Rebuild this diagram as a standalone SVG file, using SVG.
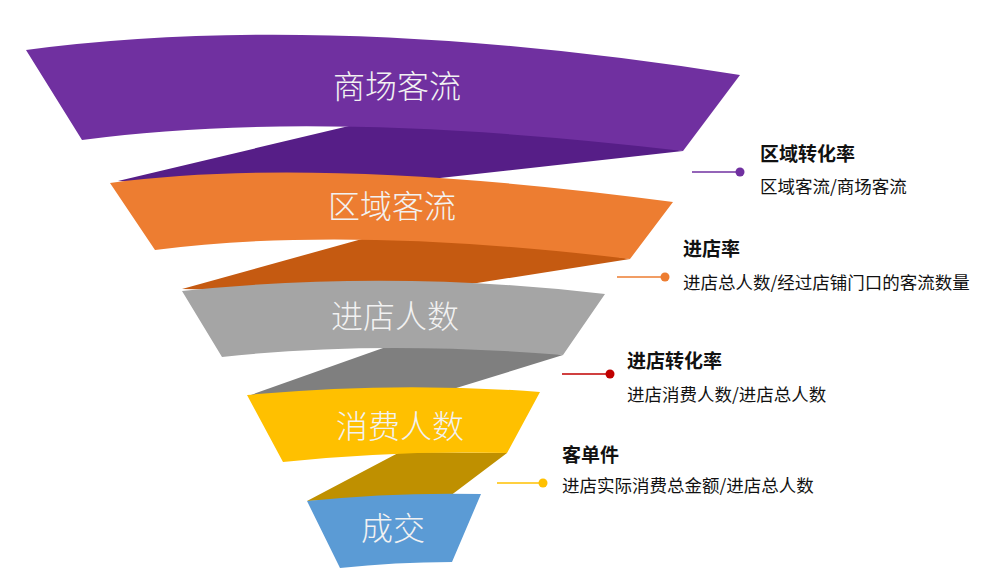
<svg xmlns="http://www.w3.org/2000/svg" width="996" height="570" viewBox="0 0 996 570">
<style>
.lbl{font-family:"Noto Sans CJK SC","Noto Sans",sans-serif;font-size:32px;fill:#F2F2F2;text-anchor:middle;font-weight:300}
.ttl{font-family:"Noto Sans CJK SC","Noto Sans",sans-serif;font-size:19px;font-weight:bold;fill:#111}
.dsc{font-family:"Noto Sans CJK SC","Noto Sans",sans-serif;font-size:17.5px;fill:#111}
.ln{stroke-width:1.5;fill:none}
</style>
<rect width="996" height="570" fill="#fff"/>
<g id="twists">
<path d="M118,181 L370,121 L600,135 L683,151 L440,178 L300,190 Z" fill="#561E87"/>
<path d="M182,289 L380,234 L550,245 L630,259 L477,283 L330,292 Z" fill="#C55A11"/>
<path d="M248,396 L400,342 L520,347 L563,355 L453,389 L330,395 Z" fill="#7F7F7F"/>
<path d="M307,501 L400,452 L507,453 L450,496 L380,498 Z" fill="#BF9000"/>
</g>
<g id="n1"><path d="M26,50 Q330,10 740,75 L683,151 Q317,108 82,140 Z" fill="#7030A0"/><text class="lbl" x="397" y="98">商场客流</text></g>
<g id="n2"><path d="M110,183 Q320,155 673,202 L630,259 Q347,225 155,250 Z" fill="#ED7D31"/><text class="lbl" x="392" y="218">区域客流</text></g>
<g id="n3"><path d="M182,291 Q392,269 605,294 L563,355 Q377,340 222,357 Z" fill="#A5A5A5"/><text class="lbl" x="395" y="328">进店人数</text></g>
<g id="n4"><path d="M247,395 Q396,381 540,392 L507,453 Q395,450 283,462 Z" fill="#FFC000"/><text class="lbl" x="400" y="438">消费人数</text></g>
<g id="n5"><path d="M307,501 Q395,492 481,494 L452,562 Q395,562 340,568 Z" fill="#5B9BD5"/><text class="lbl" x="393" y="540">成交</text></g>
<g id="connectors">
<line class="ln" x1="692" y1="172" x2="740" y2="172" stroke="#7030A0"/><circle cx="740" cy="172" r="4.5" fill="#7030A0"/>
<line class="ln" x1="617" y1="277" x2="665" y2="277" stroke="#ED7D31"/><circle cx="665" cy="277" r="4.5" fill="#ED7D31"/>
<line class="ln" x1="562" y1="374" x2="610" y2="374" stroke="#C00000"/><circle cx="610" cy="374" r="4.5" fill="#C00000"/>
<line class="ln" x1="497" y1="483" x2="543" y2="483" stroke="#FFC000"/><circle cx="543" cy="483" r="4.5" fill="#FFC000"/>
</g>
<g id="a1"><text class="ttl" x="760" y="161">区域转化率</text><text class="dsc" x="760" y="193">区域客流/商场客流</text></g>
<g id="a2"><text class="ttl" x="683" y="256">进店率</text><text class="dsc" x="683" y="289">进店总人数/经过店铺门口的客流数量</text></g>
<g id="a3"><text class="ttl" x="627" y="368">进店转化率</text><text class="dsc" x="627" y="401">进店消费人数/进店总人数</text></g>
<g id="a4"><text class="ttl" x="562" y="462">客单件</text><text class="dsc" x="562" y="492">进店实际消费总金额/进店总人数</text></g>
</svg>
